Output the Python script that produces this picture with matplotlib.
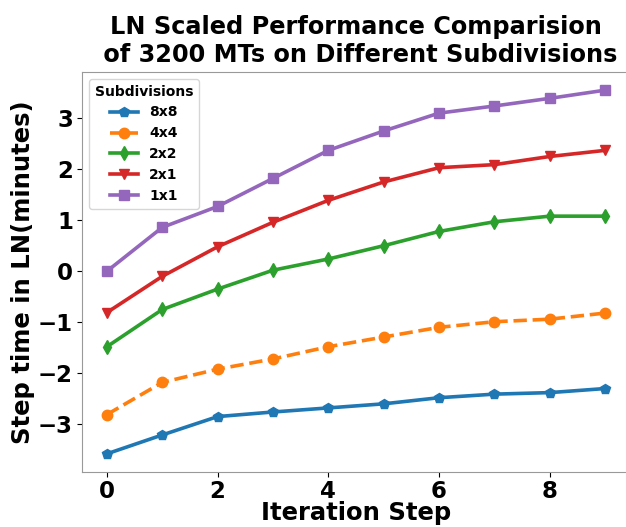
import matplotlib
matplotlib.use("Agg")
import matplotlib.pyplot as plt
import numpy as np

# pasos de iteracion y tiempos (LN de minutos)
steps = np.arange(10)
labels = ["8x8", "4x4", "2x2", "2x1", "1x1"]
t_8x8 = [-3.58, -3.21, -2.85, -2.76, -2.68, -2.60, -2.48, -2.41, -2.38, -2.30]
t_4x4 = [-2.81, -2.18, -1.92, -1.72, -1.48, -1.29, -1.10, -0.99, -0.94, -0.82]
t_2x2 = [-1.48, -0.75, -0.35, 0.02, 0.24, 0.50, 0.78, 0.97, 1.08, 1.08]
t_2x1 = [-0.81, -0.10, 0.48, 0.96, 1.39, 1.75, 2.03, 2.09, 2.25, 2.37]
t_1x1 = [0.00, 0.86, 1.27, 1.82, 2.37, 2.75, 3.10, 3.24, 3.39, 3.55]

series = [t_8x8, t_4x4, t_2x2, t_2x1, t_1x1]
markers = ["p", "o", "d", "v", "s"]
styles = ["-", "--", "-", "-", "-"]
colors = ["#1f77b4", "#ff7f0e", "#2ca02c", "#d62728", "#9467bd"]

fig = plt.figure(figsize=(6.26, 5.27), dpi=100)
# el eje derecho queda fuera de la imagen, como en la original
ax = fig.add_axes([82/626, 55/527, 548/626, 400/527])

for vals, lab, m, ls, c in zip(series, labels, markers, styles, colors):
    ax.plot(steps, vals, linestyle=ls, marker=m, color=c, linewidth=2.6,
            markersize=7.5, label=lab)

ax.set_xlim(-0.45, 9.45)
ax.tick_params(axis="x", pad=2)
ax.tick_params(axis="y", pad=3)
ax.set_xlabel("Iteration Step", fontsize=17.5, fontweight="bold", labelpad=-1)
ax.set_ylabel("Step time in LN(minutes)", fontsize=17.5, fontweight="bold", labelpad=2)
ax.set_title("LN Scaled Performance Comparision\n of 3200 MTs on Different Subdivisions",
             fontsize=17.3, fontweight="bold", pad=7)
ax.set_xticks([0, 2, 4, 6, 8])
for t in ax.get_xticklabels() + ax.get_yticklabels():
    t.set_fontsize(16.5)
    t.set_fontweight("bold")
for s in ax.spines.values():
    s.set_color("#999999")

leg = ax.legend(title="Subdivisions", loc="upper left",
                prop={"weight": "bold", "size": 10},
                title_fontproperties={"weight": "bold", "size": 10})

fig.savefig("out.png", dpi=100)
